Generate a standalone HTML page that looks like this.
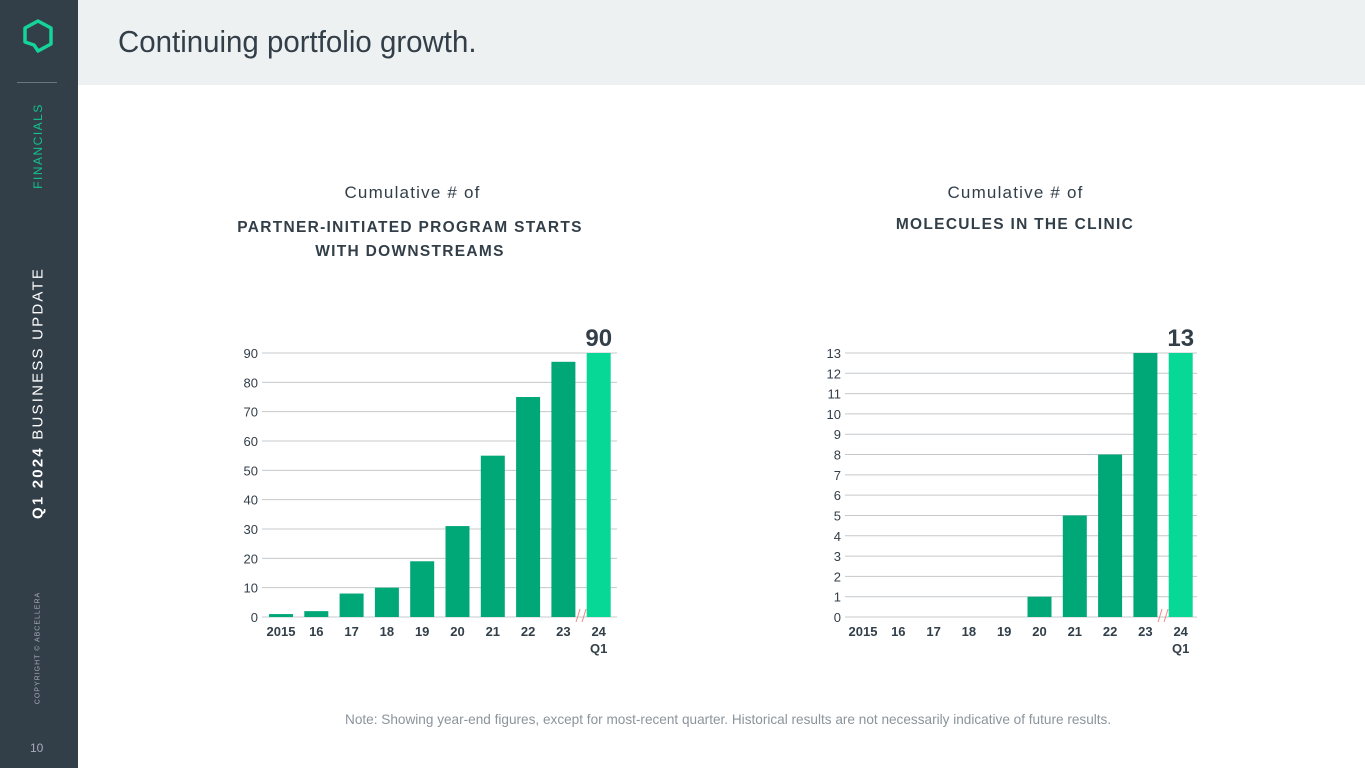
<!DOCTYPE html>
<html><head><meta charset="utf-8"><style>
body{margin:0;width:1365px;height:768px;position:relative;background:#fff;font-family:"Liberation Sans",sans-serif;overflow:hidden}
.abs{position:absolute}
</style></head><body>
<div class="abs" style="left:0;top:0;width:78px;height:768px;background:#323e48"></div>
<svg class="abs" style="left:20px;top:18px" width="36" height="38" viewBox="0 0 36 38"><path d="M18 3 L31 10 L31 26 L18 33 L14 27 L5 24 L5 10 Z" fill="none" stroke="#14d49a" stroke-width="3.5" stroke-linejoin="round"/></svg>
<div class="abs" style="left:17px;top:82px;width:40px;height:1px;background:#6b767e"></div>
<div class="abs" style="left:38px;top:146px;transform:translate(-50%,-50%) rotate(-90deg);color:#14c48e;font-size:12px;letter-spacing:1.5px;white-space:nowrap">FINANCIALS</div>
<div class="abs" style="left:38px;top:393px;transform:translate(-50%,-50%) rotate(-90deg);color:#fff;font-size:15px;letter-spacing:2.2px;white-space:nowrap"><b>Q1 2024</b> BUSINESS UPDATE</div>
<div class="abs" style="left:38px;top:648px;transform:translate(-50%,-50%) rotate(-90deg);color:#aab;font-size:7px;letter-spacing:1px;white-space:nowrap">COPYRIGHT © ABCELLERA</div>
<div class="abs" style="left:30px;top:741px;color:#aab;font-size:12px">10</div>
<div class="abs" style="left:78px;top:0;width:1287px;height:85px;background:#eef1f2"></div>
<div class="abs" style="left:118px;top:24px;color:#323e48;font-size:31px;transform:scaleX(0.95);transform-origin:left">Continuing portfolio growth.</div>

<div class="abs" style="left:240px;width:345px;top:183px;text-align:center;color:#323e48;font-size:17px;letter-spacing:1.2px">Cumulative # of</div>
<div class="abs" style="left:210px;width:400px;top:216px;text-align:center;color:#323e48;font-size:15.5px;font-weight:bold;letter-spacing:1.3px;line-height:24px">PARTNER-INITIATED PROGRAM STARTS<br>WITH DOWNSTREAMS</div>
<div class="abs" style="left:843px;width:345px;top:183px;text-align:center;color:#323e48;font-size:17px;letter-spacing:1.2px">Cumulative # of</div>
<div class="abs" style="left:815px;width:400px;top:216px;text-align:center;color:#323e48;font-size:15.5px;font-weight:bold;letter-spacing:1.3px">MOLECULES IN THE CLINIC</div>
<div class="abs" style="left:345px;top:712px;color:#8a949b;font-size:13.6px">Note: Showing year-end figures, except for most-recent quarter. Historical results are not necessarily indicative of future results.</div>

<svg class="abs" id="chart" style="left:0;top:0" width="1365" height="768"></svg>
<script>
const categories=["2015","16","17","18","19","20","21","22","23","24"];
const leftValues=[1,2,8,10,19,31,55,75,87,90];
const leftTicks=[0,10,20,30,40,50,60,70,80,90];
const rightValues=[0,0,0,0,0,1,5,8,13,13];
const rightTicks=[0,1,2,3,4,5,6,7,8,9,10,11,12,13];
const svg=document.getElementById('chart');
const NS='http://www.w3.org/2000/svg';
function mk(t,a,txt){const e=document.createElementNS(NS,t);for(const k in a)e.setAttribute(k,a[k]);if(txt!==undefined)e.textContent=txt;svg.appendChild(e);return e;}
function draw(prefix,x0,x1,firstCenter,values,ticks,maxV){
  const y0=617,yT=353,step=35.3,bw=24;
  const y=v=>y0-(v/maxV)*(y0-yT);
  const x=i=>firstCenter+i*step;
  ticks.forEach(t=>{
    const l=mk('line',{x1:x0,x2:x1,y1:y(t),y2:y(t),stroke:'#c4c8cb','stroke-width':1});
    
    
    const tx=mk('text',{x:x0-4,y:y(t)+5,'text-anchor':'end','font-size':13,fill:'#323e48','font-family':'Liberation Sans'},t);
    
    
  });
  values.forEach((v,i)=>{
    const last=i===values.length-1;
    const r=mk('rect',{x:x(i)-bw/2,y:y(v),width:bw,height:y0-y(v),fill:last?'#07d895':'#00a878'});
    
    
    const tx=mk('text',{x:x(i),y:y0+19,'text-anchor':'middle','font-size':13,'font-weight':'bold',fill:'#323e48','font-family':'Liberation Sans'},categories[i]);
    
    
    if(last){
      const q=mk('text',{x:x(i),y:y0+36,'text-anchor':'middle','font-size':13,'font-weight':'bold',fill:'#323e48','font-family':'Liberation Sans'},'Q1');
      
      
      const lab=mk('text',{x:x(i),y:y(v)-7,'text-anchor':'middle','font-size':24,'font-weight':'bold',fill:'#323e48','font-family':'Liberation Sans'},v);
      
      
      const bx=x(i)-step/2;
      [-3,3].forEach(d=>{const b=mk('line',{x1:bx+d-2,y1:y0+5,x2:bx+d+2,y2:y0-8,stroke:'#e88','stroke-width':1});
        
        });
    }
  });
}
draw('left',262,617,281,leftValues,leftTicks,90);
draw('right',845,1197,863,rightValues,rightTicks,13);
</script>
</body></html>
